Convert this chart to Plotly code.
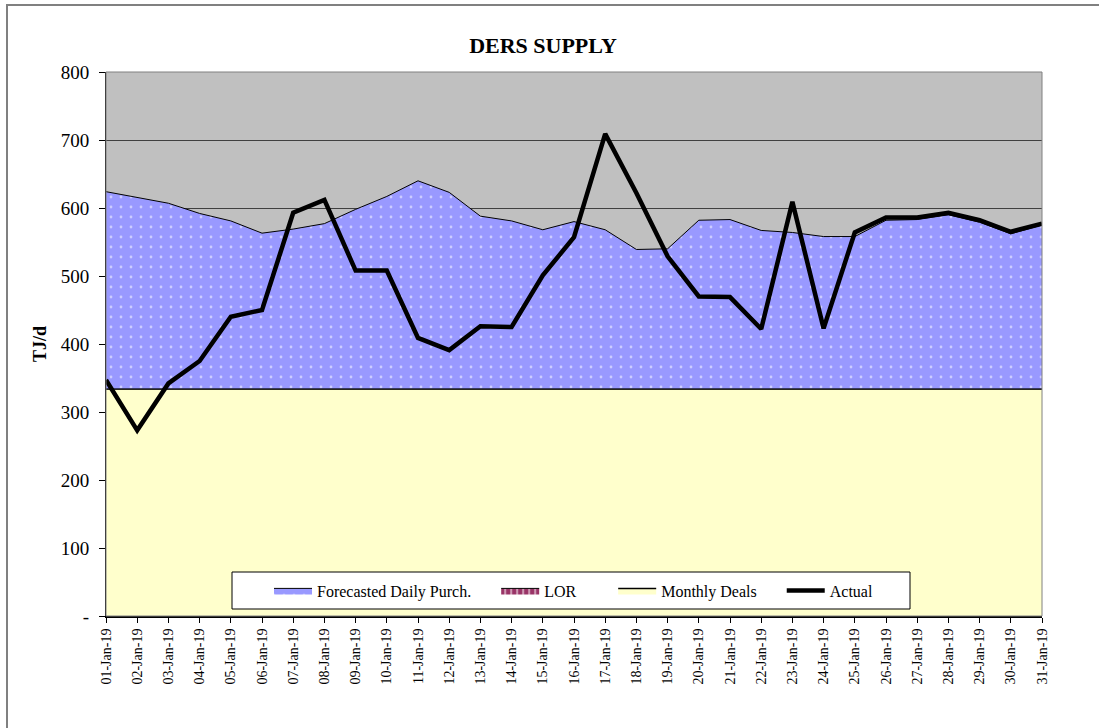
import plotly.graph_objects as go

dates = ["01-Jan-19", "02-Jan-19", "03-Jan-19", "04-Jan-19", "05-Jan-19", "06-Jan-19",
         "07-Jan-19", "08-Jan-19", "09-Jan-19", "10-Jan-19", "11-Jan-19", "12-Jan-19",
         "13-Jan-19", "14-Jan-19", "15-Jan-19", "16-Jan-19", "17-Jan-19", "18-Jan-19",
         "19-Jan-19", "20-Jan-19", "21-Jan-19", "22-Jan-19", "23-Jan-19", "24-Jan-19",
         "25-Jan-19", "26-Jan-19", "27-Jan-19", "28-Jan-19", "29-Jan-19", "30-Jan-19",
         "31-Jan-19"]

monthly_deals = [334] * 31
lor = [0] * 31
forecast_purch = [290, 281, 273, 258, 247, 229, 235, 243, 264, 283, 306, 289, 254, 247, 234, 246,
                  234, 205, 206, 248, 249, 233, 230, 224, 224, 248, 249, 256, 245, 228, 241]
actual = [347, 273, 342, 375, 440, 450, 593, 612, 508, 508, 409, 391, 426, 425, 501, 557,
          709, 622, 529, 470, 469, 422, 609, 423, 564, 586, 586, 593, 582, 565, 577]

y_tickvals = [0, 100, 200, 300, 400, 500, 600, 700, 800]
y_ticktext = ["-", "100", "200", "300", "400", "500", "600", "700", "800"]

FONT = "Liberation Serif, Times New Roman, serif"
NB = "\u00a0"

fig = go.Figure()
fig.add_trace(go.Scatter(
    x=dates, y=monthly_deals, name="Monthly Deals" + NB * 5, stackgroup="s", mode="lines",
    line=dict(color="black", width=1.5), fillcolor="#FFFFCC", legendrank=3))
fig.add_trace(go.Scatter(
    x=dates, y=lor, name="LOR" + NB * 8, stackgroup="s", mode="lines",
    line=dict(color="black", width=1), fillcolor="#993366",
    fillpattern=dict(shape="|", fgcolor="white", bgcolor="#993366", size=6, solidity=0.35),
    legendrank=2))
fig.add_trace(go.Scatter(
    x=dates, y=forecast_purch, name="Forecasted Daily Purch." + NB * 5, stackgroup="s",
    mode="lines", line=dict(color="black", width=1), fillcolor="#9999FF",
    fillpattern=dict(shape=".", fgcolor="white", bgcolor="#9999FF", size=10, solidity=0.06),
    legendrank=1))
fig.add_trace(go.Scatter(
    x=dates, y=actual, name="Actual", mode="lines",
    line=dict(color="black", width=4.5), legendrank=4))

fig.update_layout(
    width=1099, height=728,
    margin=dict(l=106, r=57, t=72, b=112),
    paper_bgcolor="white", plot_bgcolor="#C0C0C0",
    font=dict(family=FONT, color="black", size=14),
    title=dict(text="<b>DERS SUPPLY</b>", x=543 / 1099, xref="container", xanchor="center",
               y=1 - 45 / 728, yanchor="middle", font=dict(size=22, family=FONT)),
    showlegend=True,
    legend=dict(orientation="h", x=(269 - 106) / 936, xanchor="left",
                y=(616 - 590.5) / 544, yanchor="middle", traceorder="normal",
                bgcolor="rgba(0,0,0,0)", borderwidth=0,
                font=dict(size=16, family=FONT), itemwidth=38),
    xaxis=dict(type="category", range=[0, 30], tickangle=-90, ticks="outside", ticklen=5,
               tickcolor="black", tickfont=dict(size=14, family=FONT),
               showline=True, linecolor="black", linewidth=2, showgrid=False, zeroline=False),
    yaxis=dict(range=[0, 800], tickvals=y_tickvals, ticktext=y_ticktext, ticks="outside",
               ticklen=6, tickcolor="black", tickfont=dict(size=19, family=FONT),
               ticklabelstandoff=6,
               showline=True, linecolor="black", linewidth=1,
               showgrid=True, gridcolor="#404040", gridwidth=1, zeroline=False,
               title=dict(text="<b>TJ/d</b>", font=dict(size=18, family=FONT), standoff=9)),
)

# plot-area border
fig.add_shape(type="rect", xref="paper", yref="paper", x0=0, x1=1, y0=0, y1=1,
              line=dict(color="#808080", width=1), layer="above")
# legend box
fig.add_shape(type="rect", xref="paper", yref="paper",
              x0=(232 - 106) / 936, x1=(910 - 106) / 936,
              y0=(616 - 609) / 544, y1=(616 - 572) / 544,
              line=dict(color="black", width=1), fillcolor="white", layer="above")
# outer chart border
fig.add_shape(type="rect", xref="paper", yref="paper",
              x0=(7 - 106) / 936, x1=(1150 - 106) / 936,
              y0=(616 - 780) / 544, y1=(616 - 5) / 544,
              line=dict(color="#808080", width=2), layer="below")

fig.write_html("out.html", config={"displayModeBar": False},
               post_script="document.body.style.margin='0';")
